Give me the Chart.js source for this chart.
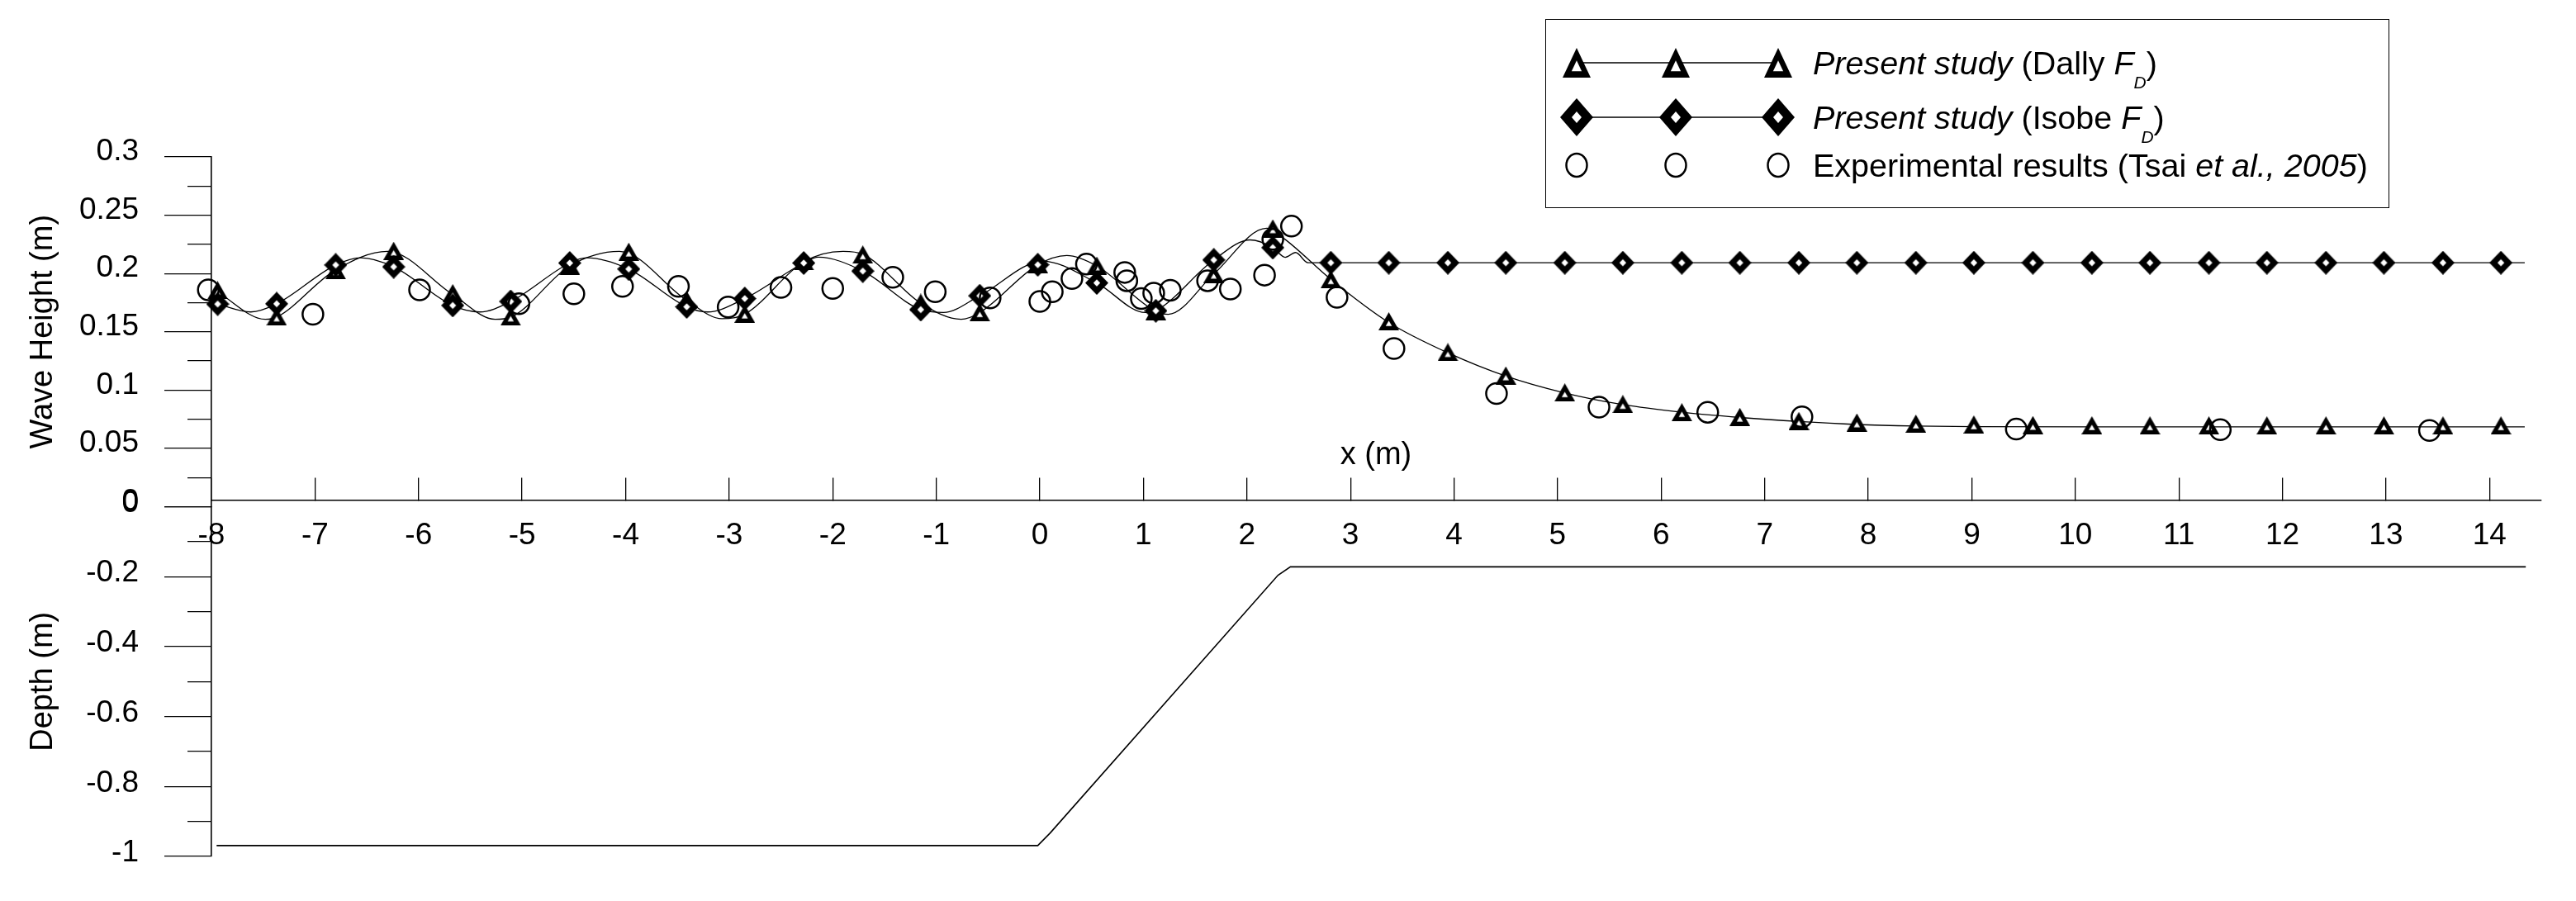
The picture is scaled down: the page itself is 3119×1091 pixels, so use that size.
<!DOCTYPE html>
<html>
<head>
<meta charset="utf-8">
<script src="https://cdn.jsdelivr.net/npm/chart.js@4.4.1/dist/chart.umd.min.js"></script>
<style>
  html, body { margin: 0; padding: 0; background: #fff; }
  #wrap { position: relative; width: 3119px; height: 1091px; overflow: hidden; background: #fff;
          font-family: "Liberation Sans", Arial, sans-serif; color: #000; }
  #c { position: absolute; left: 0; top: 0; }
  .lgbox { position: absolute; border: 1.5px solid #000; box-sizing: border-box; }
  .txt { position: absolute; font-size: 39.5px; line-height: 46px; white-space: nowrap; }
  .txt sub { font-size: 21px; vertical-align: -17px; line-height: 0; font-style: italic; }
</style>
</head>
<body>
<div id="wrap">
  <canvas id="c" width="3119" height="1091" style="width:3119px;height:1091px"></canvas>
  <div class="txt" style="left:1666px;top:526px;transform:translateX(-50%);font-size:38px;">x (m)</div>
  <div class="lgbox" style="left:1871px;top:23px;width:1022px;height:229px;"></div>
  <svg id="lgsym" style="position:absolute;left:0;top:0" width="3119" height="260"></svg>
  <div class="txt" style="left:2195px;top:53px;"><i>Present study</i> (Dally <i>F</i><sub>D</sub>)</div>
  <div class="txt" style="left:2195px;top:119px;"><i>Present study</i> (Isobe <i>F</i><sub>D</sub>)</div>
  <div class="txt" style="left:2195px;top:177px;">Experimental results (Tsai <i>et al., 2005</i>)</div>
</div>
<script>
// ---------------- data ----------------
const xTickValues = [-8,-7,-6,-5,-4,-3,-2,-1,0,1,2,3,4,5,6,7,8,9,10,11,12,13,14];
const waveTickValues = [0,0.025,0.05,0.075,0.1,0.125,0.15,0.175,0.2,0.225,0.25,0.275,0.3];
const waveTickLabels = ['0','','0.05','','0.1','','0.15','','0.2','','0.25','','0.3'];
const depthTickValues = [-1,-0.9,-0.8,-0.7,-0.6,-0.5,-0.4,-0.3,-0.2,-0.1,0];
const depthTickLabels = ['-1','','-0.8','','-0.6','','-0.4','','-0.2','','0'];

// model output stations (markers)
const stationX = [-7.94,-7.37,-6.80,-6.24,-5.67,-5.11,-4.54,-3.97,-3.41,-2.85,-2.28,-1.71,-1.15,-0.58,-0.02,0.55,1.12,1.68,2.25,2.81,
                  3.37,3.94,4.50,5.07,5.63,6.20,6.76,7.33,7.89,8.46,9.02,9.59,10.16,10.72,11.29,11.85,12.42,12.98,13.55,14.11];
const dallyY = [0.1856,0.163,0.2028,0.2195,0.1832,0.163,0.2068,0.2187,0.1773,0.1655,0.2104,0.2163,0.175,0.1667,0.208,0.2068,0.1678,0.1997,0.2387,0.195,
                0.159,0.1325,0.1125,0.098,0.088,0.081,0.077,0.0735,0.0722,0.0712,0.0705,0.0700,0.0698,0.0697,0.0697,0.0697,0.0697,0.0697,0.0697,0.0697];
const isobeY = [0.1738,0.174,0.2073,0.2057,0.1726,0.176,0.209,0.2038,0.1714,0.1785,0.209,0.2021,0.169,0.1809,0.2075,0.1919,0.168,0.2116,0.2222,0.2092,
                0.2092,0.2092,0.2092,0.2092,0.2092,0.2092,0.2092,0.2092,0.2092,0.2092,0.2092,0.2092,0.2092,0.2092,0.2092,0.2092,0.2092,0.2092,0.2092,0.2092];

// thin model curves
const dallyCurveX = [-7.94,-7.48,-7.37,-6.81,-6.30,-5.67,-5.26,-5.11,-4.54,-4.06,-3.41,-3.07,-2.85,-2.28,-1.90,-1.71,-1.15,-0.76,-0.58,-0.02,
                     0.26,0.55,1.12,1.24,1.68,2.19,2.35,2.81,3.37,3.94,4.50,5.07,5.63,6.20,6.76,7.33,7.89,8.46,9.02,10.16,14.34];
const dallyCurveY = [0.184,0.1607,0.1625,0.2025,0.219,0.182,0.1607,0.1625,0.2065,0.219,0.177,0.1612,0.165,0.210,0.219,0.2165,0.1745,0.1607,0.1665,0.2075,
                     0.2155,0.2065,0.1675,0.165,0.1995,0.2388,0.2305,0.195,0.158,0.132,0.112,0.0975,0.0875,0.081,0.0765,0.073,0.0705,0.0692,0.0686,0.0684,0.0684];
const isobeCurveX = [-7.94,-7.62,-7.37,-6.80,-6.56,-6.24,-5.67,-5.41,-5.11,-4.54,-4.38,-3.97,-3.41,-3.21,-2.85,-2.28,-2.14,-1.71,-1.15,-0.93,
                     -0.58,0.03,0.55,1.02,1.12,1.68,2.03,2.25,2.37,2.47,2.59,14.34];
const isobeCurveY = [0.1738,0.167,0.174,0.2073,0.2135,0.2057,0.1726,0.167,0.176,0.209,0.2135,0.2038,0.1714,0.167,0.1785,0.209,0.214,0.2021,0.169,0.1666,
                     0.1809,0.2105,0.1919,0.1665,0.168,0.2116,0.2288,0.2222,0.2139,0.218,0.2092,0.2092];

// experimental data (Tsai et al., 2005)
const expX = [-8.03,-7.02,-5.99,-5.03,-4.50,-4.03,-3.49,-3.01,-2.50,-2.00,-1.42,-1.01,-0.48,0.00,0.12,0.31,0.45,0.82,0.84,0.98,
              1.10,1.26,1.62,1.84,2.17,2.25,2.43,2.87,3.42,4.41,5.40,6.45,7.36,9.43,11.40,13.42];
const expY = [0.186,0.165,0.186,0.174,0.1825,0.189,0.189,0.1712,0.188,0.1872,0.1967,0.1844,0.179,0.176,0.1844,0.1957,0.208,0.2009,0.1938,0.1785,
              0.1832,0.1856,0.1938,0.1867,0.1986,0.2293,0.2406,0.1796,0.1356,0.097,0.0854,0.081,0.077,0.0665,0.066,0.0653];

// bed profile (depth)
const bedX = [-7.95,-0.02,0.10,2.30,2.42,14.35];
const bedY = [-0.969,-0.969,-0.933,-0.196,-0.172,-0.172];

// ---------------- helpers ----------------
const pts = (xs, ys) => xs.map((x, i) => ({x: x, y: ys[i]}));

function triImg(w, h, k) {
  const c = document.createElement('canvas'); c.width = w; c.height = h;
  const g = c.getContext('2d');
  g.fillStyle = '#000'; g.beginPath();
  g.moveTo(w / 2, 0); g.lineTo(w, h); g.lineTo(0, h); g.closePath(); g.fill();
  const cx = w / 2, cy = h * 2 / 3;
  g.fillStyle = '#fff'; g.beginPath();
  g.moveTo(cx, cy - cy * k); g.lineTo(cx + (w - cx) * k, cy + (h - cy) * k); g.lineTo(cx - cx * k, cy + (h - cy) * k);
  g.closePath(); g.fill();
  return c;
}
function diaImg(w, h, k) {
  const c = document.createElement('canvas'); c.width = w; c.height = h;
  const g = c.getContext('2d');
  g.fillStyle = '#000'; g.beginPath();
  g.moveTo(w / 2, 0); g.lineTo(w, h / 2); g.lineTo(w / 2, h); g.lineTo(0, h / 2); g.closePath(); g.fill();
  g.fillStyle = '#fff'; g.beginPath();
  g.moveTo(w / 2, h / 2 - h / 2 * k); g.lineTo(w / 2 + w / 2 * k, h / 2); g.lineTo(w / 2, h / 2 + h / 2 * k); g.lineTo(w / 2 - w / 2 * k, h / 2);
  g.closePath(); g.fill();
  return c;
}
const triStyle = triImg(25, 22, 0.3);
const diaStyle = diaImg(28, 29, 0.3);

// legend symbols (svg)
(function () {
  const rows = [76, 142, 200], xs = [1909, 2029, 2153];
  let s = '';
  s += `<line x1="${xs[0]}" y1="${rows[0]}" x2="${xs[2]}" y2="${rows[0]}" stroke="#000" stroke-width="1.5"/>`;
  s += `<line x1="${xs[0]}" y1="${rows[1]}" x2="${xs[2]}" y2="${rows[1]}" stroke="#000" stroke-width="1.5"/>`;
  xs.forEach(cx => {
    let cy = rows[0], w = 34, h = 36, k = 0.36, icy = cy + h / 6;
    s += `<path d="M${cx},${cy - h / 2} L${cx + w / 2},${cy + h / 2} L${cx - w / 2},${cy + h / 2} Z" fill="#000"/>`;
    s += `<path d="M${cx},${icy - (2 * h / 3) * k} L${cx + w / 2 * k},${icy + h / 3 * k} L${cx - w / 2 * k},${icy + h / 3 * k} Z" fill="#fff"/>`;
    cy = rows[1]; w = 40; h = 46; k = 0.3;
    s += `<path d="M${cx},${cy - h / 2} L${cx + w / 2},${cy} L${cx},${cy + h / 2} L${cx - w / 2},${cy} Z" fill="#000"/>`;
    s += `<path d="M${cx},${cy - h / 2 * k} L${cx + w / 2 * k},${cy} L${cx},${cy + h / 2 * k} L${cx - w / 2 * k},${cy} Z" fill="#fff"/>`;
    s += `<ellipse cx="${cx}" cy="${rows[2]}" rx="12.5" ry="14" fill="none" stroke="#000" stroke-width="2.5"/>`;
  });
  document.getElementById('lgsym').innerHTML = s;
})();

// ---------------- chart ----------------
const FONT = "'Liberation Sans', Arial, sans-serif";
Chart.defaults.font.family = FONT;
Chart.defaults.color = '#000';

const minorDash = [0, 28, 29, 0];

new Chart(document.getElementById('c').getContext('2d'), {
  type: 'scatter',
  data: {
    datasets: [
      { label: 'Experimental results (Tsai et al., 2005)', data: pts(expX, expY), yAxisID: 'y', xAxisID: 'x',
        pointStyle: 'circle', pointRadius: 12.5, pointBorderWidth: 2.5, pointBorderColor: '#000',
        pointBackgroundColor: 'rgba(0,0,0,0)', showLine: false, clip: false },
      { label: 'Present study (Isobe FD)', data: pts(stationX, isobeY), yAxisID: 'y', xAxisID: 'x',
        pointStyle: diaStyle, pointRadius: 12, showLine: false, clip: false },
      { label: 'Present study (Dally FD)', data: pts(stationX, dallyY), yAxisID: 'y', xAxisID: 'x',
        pointStyle: triStyle, pointRadius: 12, showLine: false, clip: false },
      { label: 'Isobe curve', data: pts(isobeCurveX, isobeCurveY), yAxisID: 'y', xAxisID: 'x',
        showLine: true, borderColor: '#000', borderWidth: 1.3, pointRadius: 0, cubicInterpolationMode: 'monotone', fill: false },
      { label: 'Dally curve', data: pts(dallyCurveX, dallyCurveY), yAxisID: 'y', xAxisID: 'x',
        showLine: true, borderColor: '#000', borderWidth: 1.3, pointRadius: 0, cubicInterpolationMode: 'monotone', fill: false },
      { label: 'Bed', data: pts(bedX, bedY), yAxisID: 'yd', xAxisID: 'x',
        showLine: true, borderColor: '#000', borderWidth: 1.6, pointRadius: 0, tension: 0, fill: false }
    ]
  },
  options: {
    responsive: false,
    animation: false,
    devicePixelRatio: 1,
    events: [],
    layout: { padding: { top: 190, bottom: 54, left: 0, right: 42 } },
    plugins: { legend: { display: false }, tooltip: { enabled: false }, title: { display: false } },
    scales: {
      yd: {
        type: 'linear', position: 'left', stack: 'main', stackWeight: 1,
        min: -1, max: 0,
        afterBuildTicks: s => { s.ticks = depthTickValues.map(v => ({ value: v })); },
        afterFit: s => { s.width = 256; },
        ticks: { autoSkip: false, padding: 31, labelOffset: -4, font: { size: 37 }, color: '#000',
                 callback: (v, i) => depthTickLabels[i] },
        grid: { drawOnChartArea: false, drawTicks: true, tickLength: 57, color: '#000', lineWidth: 1.3,
                tickBorderDash: c => (depthTickLabels[c.index] === '' ? minorDash : []) },
        border: { display: true, color: '#000', width: 1.6 },
        title: { display: true, text: 'Depth (m)', font: { size: 38 }, color: '#000', padding: { top: 30, bottom: 0 } }
      },
      y: {
        type: 'linear', position: 'left', stack: 'main', stackWeight: 1,
        min: 0, max: 0.3,
        afterBuildTicks: s => { s.ticks = waveTickValues.map(v => ({ value: v })); },
        afterFit: s => { s.width = 256; },
        ticks: { autoSkip: false, padding: 31, labelOffset: -6, font: { size: 37 }, color: '#000',
                 callback: (v, i) => waveTickLabels[i] },
        grid: { drawOnChartArea: false, drawTicks: true, tickLength: 57, color: '#000', lineWidth: 1.3,
                tickBorderDash: c => (waveTickLabels[c.index] === '' ? minorDash : []) },
        border: { display: true, color: '#000', width: 1.6 },
        title: { display: true, text: 'Wave Height (m)', font: { size: 38 }, color: '#000', padding: { top: 30, bottom: 0 } }
      },
      x: {
        type: 'linear', position: { y: 0.0056 },
        min: -8, max: 14.5,
        afterBuildTicks: s => { s.ticks = xTickValues.map(v => ({ value: v })); },
        ticks: { autoSkip: false, maxRotation: 0, minRotation: 0, padding: 49, font: { size: 37 }, color: '#000',
                 callback: v => String(v) },
        grid: { drawOnChartArea: false, drawTicks: true, tickLength: -28, color: '#000', lineWidth: 1.3 },
        border: { display: true, color: '#000', width: 1.6 },
        title: { display: false }
      }
    }
  }
});
</script>
</body>
</html>
